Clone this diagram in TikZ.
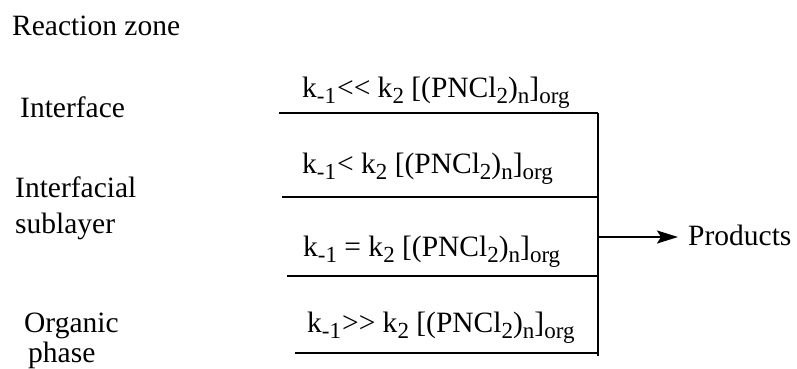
\documentclass[tikz,border=0pt]{standalone}
\usepackage{fontspec}
\setmainfont{Liberation Serif}
\usetikzlibrary{arrows.meta}
\newcommand{\lowr}[1]{\raisebox{-6.5pt}{\fontsize{23}{24}\selectfont #1}}
\begin{document}
\begin{tikzpicture}[x=1pt,y=-1pt,
  lbl/.style={anchor=base west,inner sep=0pt,font=\fontsize{29.5}{34}\selectfont},
  rule/.style={line width=1.8pt},
  arr/.style={line width=1.8pt,-{Stealth[length=21pt,width=13pt,inset=4pt]}}]
\useasboundingbox (0,0) rectangle (797,368);
\node[lbl] (rz) at (12,35) {Reaction zone};
\node[lbl] (if) at (20,117) {Interface};
\node[lbl] (is1) at (15,197) {Interfacial};
\node[lbl] (is2) at (15,233) {sublayer};
\node[lbl] (op1) at (24,332) {Organic};
\node[lbl] (op2) at (28,362) {phase};
\node[lbl] (f1) at (302,97) {k\lowr{-1\kern1pt}<{}< k\lowr{2} [(PNCl\lowr{2})\lowr{n}]\lowr{org}};
\node[lbl] (f2) at (302,173) {k\lowr{-1\kern1pt}< k\lowr{2} [(PNCl\lowr{2})\lowr{n}]\lowr{org}};
\node[lbl] (f3) at (303,256) {k\lowr{-1} = k\lowr{2} [(PNCl\lowr{2})\lowr{n}]\lowr{org}};
\node[lbl] (f4) at (307,332) {k\lowr{-1\kern1pt}>{}> k\lowr{2} [(PNCl\lowr{2})\lowr{n}]\lowr{org}};
\node[lbl] (pr) at (688,245) {Products};
\coordinate (a1) at (279,113);
\coordinate (b1) at (598,113);
\coordinate (a2) at (282,197);
\coordinate (b2) at (598,197);
\coordinate (a3) at (287,276);
\coordinate (b3) at (598,276);
\coordinate (a4) at (295,353);
\coordinate (b4) at (598,353);
\coordinate (vb) at (598,356);
\coordinate (ar) at (598,237);
\coordinate (at) at (678,237);
\draw[rule] (a1) -- (b1);
\draw[rule] (a2) -- (b2);
\draw[rule] (a3) -- (b3);
\draw[rule] (a4) -- (b4);
\draw[rule] (b1) -- (vb);
\draw[arr] (ar) -- (at);
\end{tikzpicture}
\end{document}
